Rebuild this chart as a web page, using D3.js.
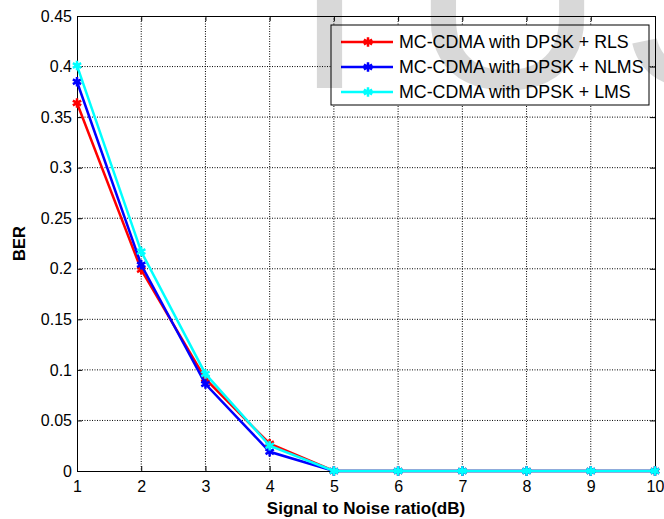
<!DOCTYPE html>
<html>
<head>
<meta charset="utf-8">
<script src="https://cdn.jsdelivr.net/npm/d3@7/dist/d3.min.js"></script>
<style>
  body { margin: 0; background: #fff; }
  text { font-family: "Liberation Sans", Arial, sans-serif; }
</style>
</head>
<body>
<div id="chart"></div>
<script>
var snr = [1, 2, 3, 4, 5, 6, 7, 8, 9, 10]
var berRLS  = [0.364, 0.199, 0.091, 0.027, 0, 0, 0, 0, 0, 0]
var berNLMS = [0.385, 0.204, 0.086, 0.019, 0, 0, 0, 0, 0, 0]
var berLMS  = [0.401, 0.217, 0.096, 0.025, 0, 0, 0, 0, 0, 0]
var seriesNames = ['MC-CDMA with DPSK + RLS', 'MC-CDMA with DPSK + NLMS', 'MC-CDMA with DPSK + LMS']
var seriesColors = ['#ff0000', '#0000ff', '#00ffff']
var yTicks = [0, 0.05, 0.1, 0.15, 0.2, 0.25, 0.3, 0.35, 0.4, 0.45]

var width = 664, height = 519
var margin = {top: 16, right: 9, bottom: 48, left: 77}
var w = width - margin.left - margin.right
var h = height - margin.top - margin.bottom

var svg = d3.select('#chart').append('svg')
  .attr('width', width).attr('height', height)

var g = svg.append('g').attr('transform', 'translate(' + margin.left + ',' + margin.top + ')')

var x = d3.scaleLinear().domain([1, 10]).range([0, w])
var y = d3.scaleLinear().domain([0, 0.45]).range([h, 0])

// grid
g.append('g').selectAll('line').data(snr.slice(1, -1)).enter().append('line')
  .attr('x1', function(d){ return x(d) }).attr('x2', function(d){ return x(d) })
  .attr('y1', 0).attr('y2', h)
  .attr('stroke', '#000').attr('stroke-width', 1).attr('stroke-dasharray', '1,1.5')
g.append('g').selectAll('line').data(yTicks.slice(1, -1)).enter().append('line')
  .attr('y1', function(d){ return y(d) }).attr('y2', function(d){ return y(d) })
  .attr('x1', 0).attr('x2', w)
  .attr('stroke', '#000').attr('stroke-width', 1).attr('stroke-dasharray', '1,1.5')

// axes, ticks inward on all sides
var xAxis = g.append('g').attr('transform', 'translate(0,' + h + ')')
  .call(d3.axisBottom(x).tickValues(snr).tickSize(-5).tickPadding(10).tickFormat(d3.format('d')))
var yAxis = g.append('g')
  .call(d3.axisLeft(y).tickValues(yTicks).tickSize(-5).tickPadding(5).tickFormat(function(d){ return d === 0 ? '0' : String(+d.toFixed(2)) }))
g.append('g').call(d3.axisTop(x).tickValues(snr).tickSize(-5).tickFormat(''))
g.append('g').attr('transform', 'translate(' + w + ',0)')
  .call(d3.axisRight(y).tickValues(yTicks).tickSize(-5).tickFormat(''))

g.selectAll('.domain').attr('stroke', '#000').attr('stroke-width', 1)
g.selectAll('.tick line').attr('stroke', '#000')
xAxis.selectAll('text').attr('font-size', 16).attr('fill', '#000')
yAxis.selectAll('text').attr('font-size', 16).attr('fill', '#000')

// series
var all = [berRLS, berNLMS, berLMS]
var line = d3.line().x(function(d, i){ return x(snr[i]) }).y(function(d){ return y(d) })
var star = d3.symbol().type(d3.symbolAsterisk).size(64)

all.forEach(function(vals, k){
  g.append('path').datum(vals)
    .attr('d', line).attr('fill', 'none')
    .attr('stroke', seriesColors[k]).attr('stroke-width', 2.5)
  g.append('g').selectAll('path').data(vals).enter().append('path')
    .attr('d', star)
    .attr('transform', function(d, i){ return 'translate(' + x(snr[i]) + ',' + y(d) + ')' })
    .attr('fill', 'none').attr('stroke', seriesColors[k]).attr('stroke-width', 2.5)
})

// legend
var legend = svg.append('g').attr('transform', 'translate(331,25)')
legend.append('rect').attr('width', 318).attr('height', 80)
  .attr('fill', '#fff').attr('stroke', '#000').attr('stroke-width', 1)
seriesNames.forEach(function(name, k){
  var ly = 17 + k * 25
  legend.append('line').attr('x1', 10).attr('x2', 62).attr('y1', ly).attr('y2', ly)
    .attr('stroke', seriesColors[k]).attr('stroke-width', 2.5)
  legend.append('path').attr('d', star).attr('transform', 'translate(37,' + ly + ')')
    .attr('fill', 'none').attr('stroke', seriesColors[k]).attr('stroke-width', 2.5)
  legend.append('text').attr('x', 68).attr('y', ly + 6)
    .attr('font-size', 17.8).attr('fill', '#000').text(name)
})

// axis labels
svg.append('text').attr('x', margin.left + w / 2).attr('y', 514)
  .attr('text-anchor', 'middle').attr('font-size', 17).attr('font-weight', 'bold')
  .text('Signal to Noise ratio(dB)')
svg.append('text').attr('transform', 'translate(25,' + (margin.top + h / 2) + ') rotate(-90)')
  .attr('text-anchor', 'middle').attr('font-size', 16.5).attr('font-weight', 'bold')
  .text('BER')

// faint watermark
var wm = svg.append('g').attr('fill', '#000').attr('opacity', 0.15).attr('font-size', 270)
wm.append('text').attr('x', 292).attr('y', 88).text('I')
wm.append('text').attr('x', 410).attr('y', 88).text('U')
wm.append('text').attr('x', 620).attr('y', 88).text('S')
</script>
</body>
</html>
